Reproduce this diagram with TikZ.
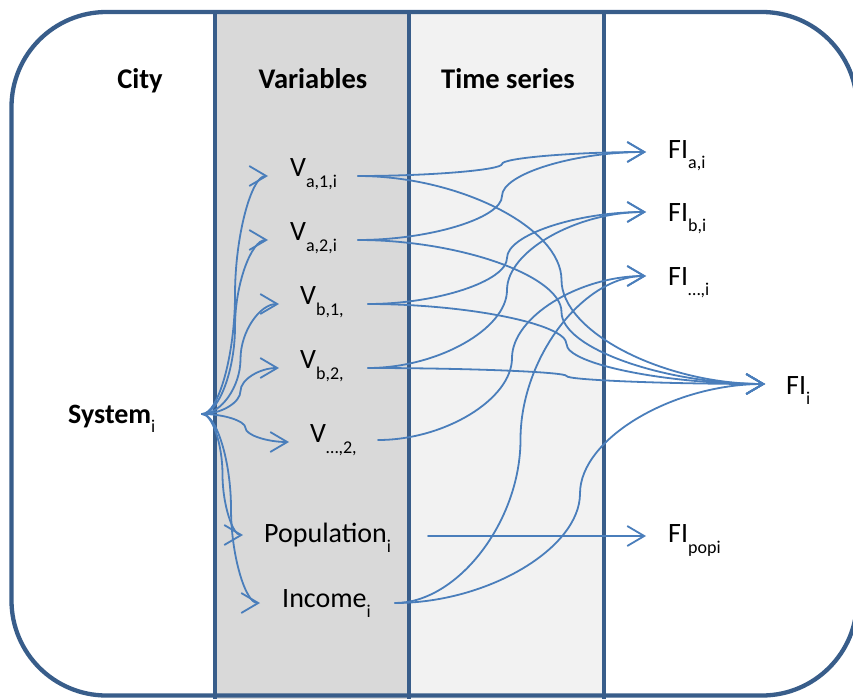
\documentclass[tikz,border=0pt]{standalone}
\usepackage{fontspec}
\setmainfont{Carlito}
\usetikzlibrary{arrows.meta,calc}
\definecolor{frameblue}{HTML}{385D8A}
\definecolor{linkblue}{HTML}{4A7EBB}
\definecolor{varfill}{HTML}{D9D9D9}
\definecolor{tsfill}{HTML}{F2F2F2}
\newcommand{\lsub}[2][-11pt]{\raisebox{#1}{\fontsize{18}{20}\selectfont\mdseries #2}}
\begin{document}
\begin{tikzpicture}[x=1pt,y=-1pt,
  frame/.style={draw=frameblue,line width=4.3pt},
  hdr/.style={font=\fontsize{28.5}{32}\selectfont\bfseries,anchor=base,inner sep=0pt},
  lbl/.style={font=\fontsize{28}{32}\selectfont,anchor=base west,inner sep=0pt},
  boldlbl/.style={lbl,font=\fontsize{28}{32}\selectfont\bfseries},
  conn/.style={draw=linkblue,line width=1.8pt,line cap=round,-{Straight Barb[length=17pt,width=20pt]}},
  ppt/.style={to path={let \p1=(\tikztostart), \p2=(\tikztotarget) in
     .. controls ({(3*\x1+\x2)/4},\y1) and ({(\x1+\x2)/2},{(3*\y1+\y2)/4}) ..
     ({(\x1+\x2)/2},{(\y1+\y2)/2})
     .. controls ({(\x1+\x2)/2},{(\y1+3*\y2)/4}) and ({(\x1+3*\x2)/4},\y2) .. (\tikztotarget)}}]
\useasboundingbox (0,0) rectangle (853,698);
\clip (0,0) rectangle (853,698);
\fill[white] (0,0) rectangle (853,698);
\fill[varfill] (215,12) rectangle (409,720);
\fill[tsfill] (409,12) rectangle (604,720);
\draw[frame, rounded corners=95pt] (11.5,12) rectangle (857,695.5);
\draw[frame] (215,12) -- (215,720);
\draw[frame] (409,12) -- (409,720);
\draw[frame] (604,12) -- (604,720);

% headers
\node[hdr] (city) at (140,89) {City};
\node[hdr] (vars) at (313,89) {Variables};
\node[hdr] (ts) at (508,89) {Time series};

% labels
\node[boldlbl] (sys) at (68,423) {System\lsub[-9pt]{i}};
\node[lbl] (va1) at (290,176) {V\lsub{a,1,i}};
\node[lbl] (va2) at (290,240) {V\lsub{a,2,i}};
\node[lbl] (vb1) at (300,304) {V\lsub{b,1,}};
\node[lbl] (vb2) at (300,368) {V\lsub{b,2,}};
\node[lbl] (vdd) at (310,442) {V\lsub{…,2,}};
\node[lbl] (pop) at (264,542) {Population\lsub[-10pt]{i}};
\node[lbl] (inc) at (282,607) {Income\lsub[-10pt]{i}};
\node[lbl] (fia) at (668,158) {FI\lsub[-10pt]{a,i}};
\node[lbl] (fib) at (668,221) {FI\lsub[-10pt]{b,i}};
\node[lbl] (fid) at (668,285) {FI\lsub[-10pt]{…,i}};
\node[lbl] (fii) at (786,394) {FI\lsub[-10pt]{i}};
\node[lbl] (fip) at (668,542) {FI\lsub[-11pt]{popi}};

% connector ends
\coordinate (sysout) at ([xshift=134pt,yshift=9pt]sys.base west);
\coordinate (va1in) at ([xshift=-22pt]va1.base west);
\coordinate (va1out) at ([xshift=68pt]va1.base west);
\coordinate (va2in) at ([xshift=-22pt]va2.base west);
\coordinate (va2out) at ([xshift=68pt]va2.base west);
\coordinate (vb1in) at ([xshift=-21pt]vb1.base west);
\coordinate (vb1out) at ([xshift=68pt]vb1.base west);
\coordinate (vb2in) at ([xshift=-21pt]vb2.base west);
\coordinate (vb2out) at ([xshift=68pt]vb2.base west);
\coordinate (vddin) at ([xshift=-21pt]vdd.base west);
\coordinate (vddout) at ([xshift=68pt,yshift=2pt]vdd.base west);
\coordinate (popin) at ([xshift=-21pt,yshift=7pt]pop.base west);
\coordinate (popout) at ([xshift=164pt,yshift=6pt]pop.base west);
\coordinate (incin) at ([xshift=-22pt,yshift=4pt]inc.base west);
\coordinate (incout) at ([xshift=113pt,yshift=4pt]inc.base west);
\coordinate (fiain) at ([xshift=-22pt,yshift=6pt]fia.base west);
\coordinate (fibin) at ([xshift=-22pt,yshift=9pt]fib.base west);
\coordinate (fidin) at ([xshift=-22pt,yshift=9pt]fid.base west);
\coordinate (fiiin) at ([xshift=-21pt,yshift=10pt]fii.base west);
\coordinate (fipin) at ([xshift=-22pt,yshift=6pt]fip.base west);

% system to variables
\foreach \t in {va1in,va2in,vb1in,vb2in,vddin,popin,incin}
  \draw[conn] (sysout) to[ppt] (\t);

% variables to indices
\draw[conn] (va1out) to[ppt] (fiain);
\draw[conn] (va1out) to[ppt] (fiiin);
\draw[conn] (va2out) to[ppt] (fiain);
\draw[conn] (va2out) to[ppt] (fiiin);
\draw[conn] (vb1out) to[ppt] (fibin);
\draw[conn] (vb1out) to[ppt] (fiiin);
\draw[conn] (vb2out) to[ppt] (fibin);
\draw[conn] (vb2out) to[ppt] (fiiin);
\draw[conn] (vddout) to[ppt] (fidin);
\draw[conn] (incout) to[ppt] (fidin);
\draw[conn] (incout) to[ppt] (fiiin);
\draw[conn] (popout) -- (fipin);
\end{tikzpicture}
\end{document}
